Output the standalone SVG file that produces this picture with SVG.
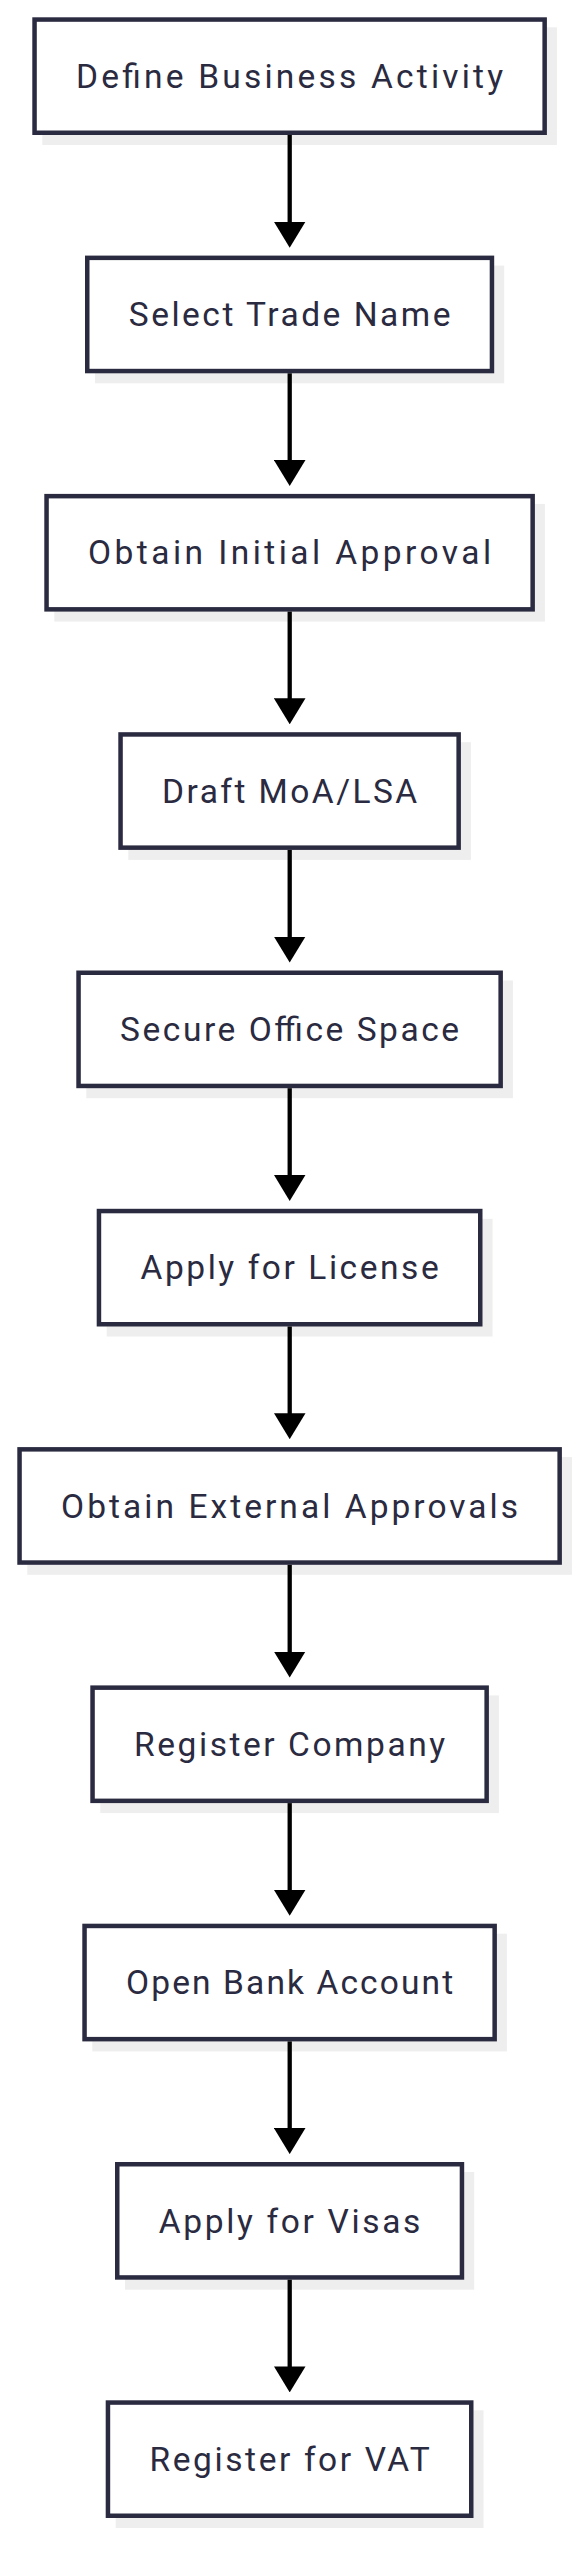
<svg xmlns="http://www.w3.org/2000/svg" width="585" height="2560" viewBox="0 0 585 2560">
<style>
.shadow{fill:#eeeeee;stroke:none}
.box{fill:#ffffff;stroke:#2a2a40;stroke-width:4.5}
.lbl{font-family:Roboto,"Noto Sans","DejaVu Sans",sans-serif;font-size:33.5px;fill:#2a2a40;text-anchor:middle}
.edge{fill:none;stroke:#000000;stroke-width:4.3}
</style>
<defs>
<marker id="arrow" markerUnits="userSpaceOnUse" markerWidth="26" markerHeight="31.6" refX="1" refY="15.8" orient="auto">
<path d="M0,0 L26,15.8 L0,31.6 Z" fill="#000000"/>
</marker>
</defs>
<rect width="585" height="2560" fill="#ffffff"/>
<g id="node1">
<rect class="shadow" x="42.3" y="27.3" width="514.6" height="117.7"/>
<rect class="box" x="34.55" y="19.55" width="510.1" height="113.2"/>
<text class="lbl" x="289.6" y="87.8" textLength="427" lengthAdjust="spacing">Define Business Activity</text>
</g>
<g id="node2">
<rect class="shadow" x="95" y="265.6" width="409.2" height="117.7"/>
<rect class="box" x="87.25" y="257.85" width="404.7" height="113.2"/>
<text class="lbl" x="289.6" y="326.1" textLength="321.6" lengthAdjust="spacing">Select Trade Name</text>
</g>
<g id="node3">
<rect class="shadow" x="54.3" y="503.9" width="490.6" height="117.7"/>
<rect class="box" x="46.55" y="496.15" width="486.1" height="113.2"/>
<text class="lbl" x="289.6" y="564.4" textLength="403" lengthAdjust="spacing">Obtain Initial Approval</text>
</g>
<g id="node4">
<rect class="shadow" x="128.3" y="742.2" width="342.6" height="117.7"/>
<rect class="box" x="120.55" y="734.45" width="338.1" height="113.2"/>
<text class="lbl" x="289.6" y="802.7" textLength="255" lengthAdjust="spacing">Draft MoA/LSA</text>
</g>
<g id="node5">
<rect class="shadow" x="86.3" y="980.5" width="426.6" height="117.7"/>
<rect class="box" x="78.55" y="972.75" width="422.1" height="113.2"/>
<text class="lbl" x="289.6" y="1041" textLength="339" lengthAdjust="spacing">Secure Office Space</text>
</g>
<g id="node6">
<rect class="shadow" x="106.7" y="1218.8" width="385.8" height="117.7"/>
<rect class="box" x="98.95" y="1211.05" width="381.3" height="113.2"/>
<text class="lbl" x="289.6" y="1279.3" textLength="298.2" lengthAdjust="spacing">Apply for License</text>
</g>
<g id="node7">
<rect class="shadow" x="27.3" y="1457.1" width="544.6" height="117.7"/>
<rect class="box" x="19.55" y="1449.35" width="540.1" height="113.2"/>
<text class="lbl" x="289.6" y="1517.6" textLength="457" lengthAdjust="spacing">Obtain External Approvals</text>
</g>
<g id="node8">
<rect class="shadow" x="100.3" y="1695.4" width="398.6" height="117.7"/>
<rect class="box" x="92.55" y="1687.65" width="394.1" height="113.2"/>
<text class="lbl" x="289.6" y="1755.9" textLength="311" lengthAdjust="spacing">Register Company</text>
</g>
<g id="node9">
<rect class="shadow" x="92.3" y="1933.7" width="414.6" height="117.7"/>
<rect class="box" x="84.55" y="1925.95" width="410.1" height="113.2"/>
<text class="lbl" x="289.6" y="1994.2" textLength="327" lengthAdjust="spacing">Open Bank Account</text>
</g>
<g id="node10">
<rect class="shadow" x="125" y="2172" width="349.2" height="117.7"/>
<rect class="box" x="117.25" y="2164.25" width="344.7" height="113.2"/>
<text class="lbl" x="289.6" y="2232.5" textLength="261.6" lengthAdjust="spacing">Apply for Visas</text>
</g>
<g id="node11">
<rect class="shadow" x="115.7" y="2410.3" width="367.8" height="117.7"/>
<rect class="box" x="107.95" y="2402.55" width="363.3" height="113.2"/>
<text class="lbl" x="289.6" y="2470.8" textLength="280.2" lengthAdjust="spacing">Register for VAT</text>
</g>
<g id="connectors">
<path class="edge" d="M289.7,135 V222.7" marker-end="url(#arrow)"/>
<path class="edge" d="M289.7,373.3 V461" marker-end="url(#arrow)"/>
<path class="edge" d="M289.7,611.6 V699.3" marker-end="url(#arrow)"/>
<path class="edge" d="M289.7,849.9 V937.6" marker-end="url(#arrow)"/>
<path class="edge" d="M289.7,1088.2 V1175.9" marker-end="url(#arrow)"/>
<path class="edge" d="M289.7,1326.5 V1414.2" marker-end="url(#arrow)"/>
<path class="edge" d="M289.7,1564.8 V1652.5" marker-end="url(#arrow)"/>
<path class="edge" d="M289.7,1803.1 V1890.8" marker-end="url(#arrow)"/>
<path class="edge" d="M289.7,2041.4 V2129.1" marker-end="url(#arrow)"/>
<path class="edge" d="M289.7,2279.7 V2367.4" marker-end="url(#arrow)"/>
</g>
</svg>
